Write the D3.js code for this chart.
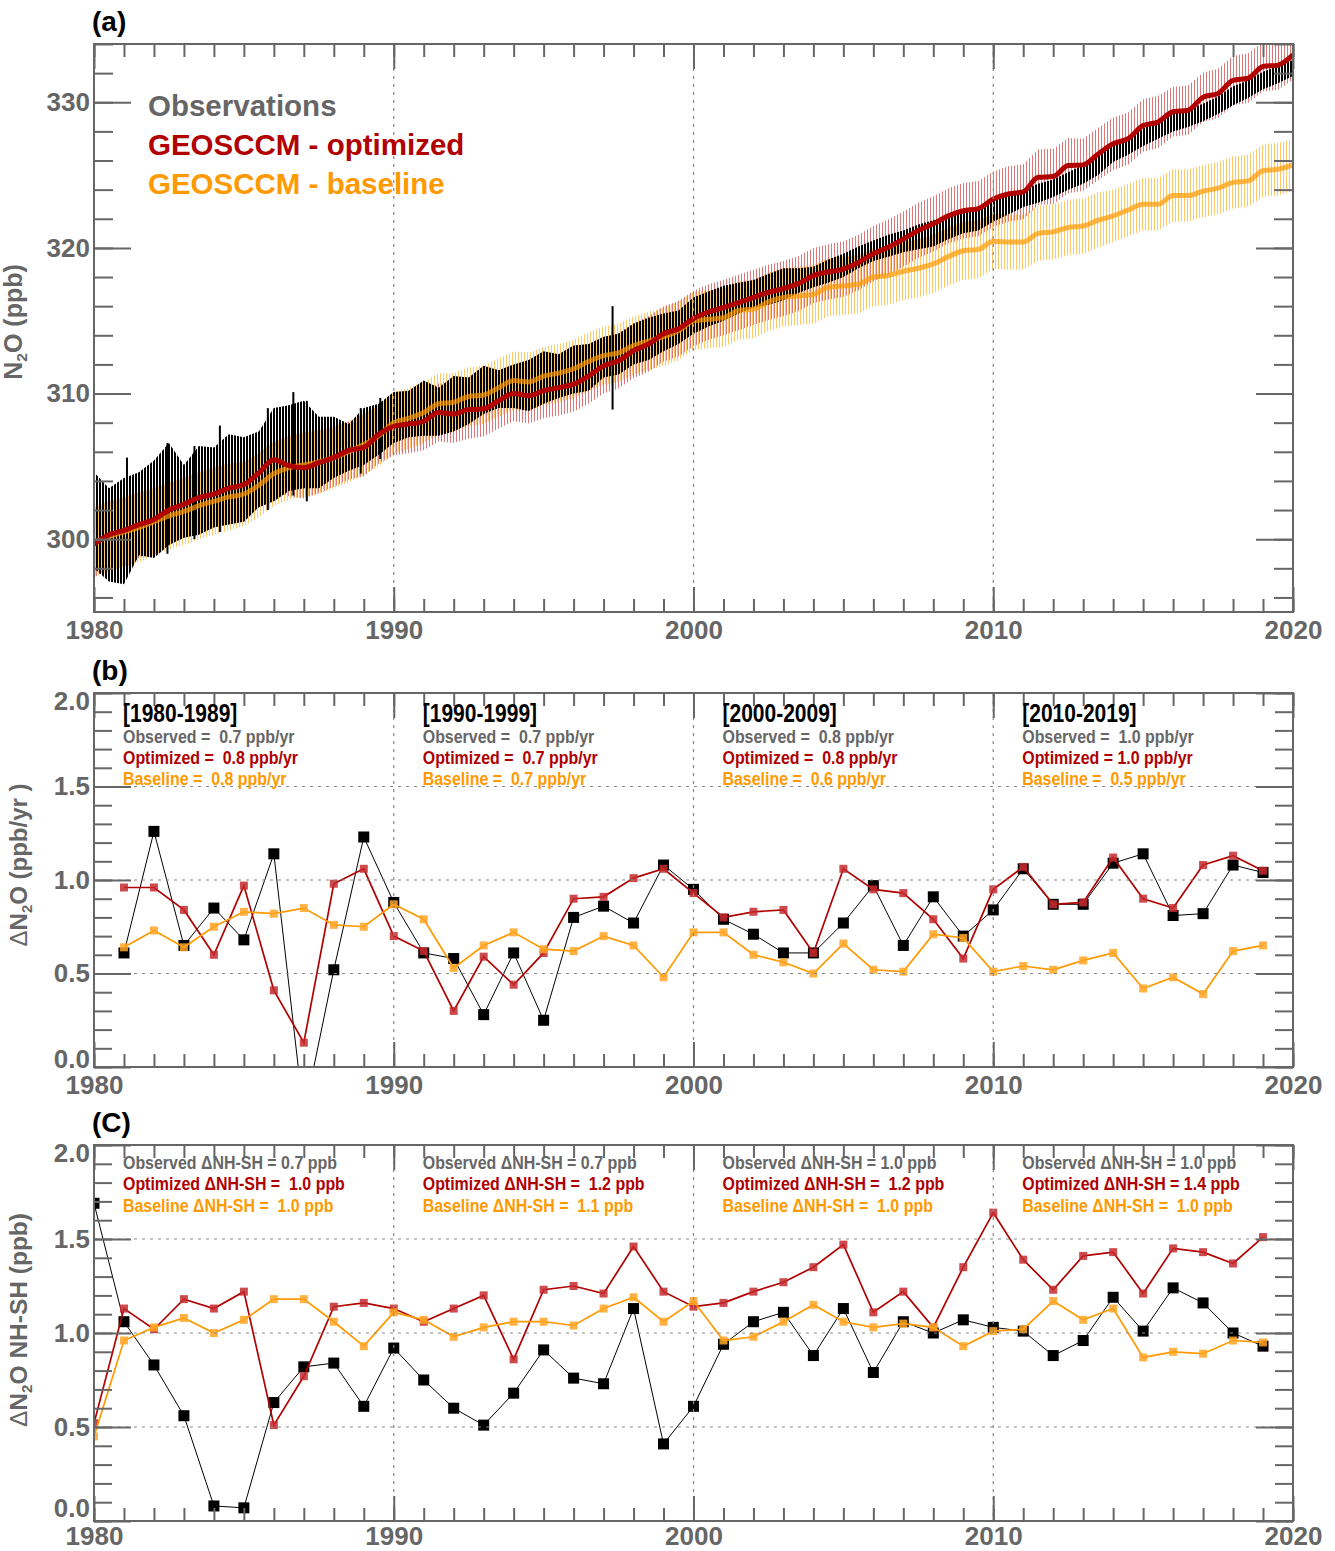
<!DOCTYPE html>
<html>
<head>
<meta charset="utf-8">
<script src="https://cdn.jsdelivr.net/npm/d3@7"></script>
<style>
    body { margin: 0; background: #fff; }
    text { font-family: "Liberation Sans", Arial, Helvetica, sans-serif; }
    .narrow { font-weight: 700; white-space: pre; }
    .axis line { stroke: #666; stroke-width: 2; }
    .axis text { font-size: 26px; font-weight: 700; fill: #666; font-family: "Liberation Sans", Arial, sans-serif; }
</style>
</head>
<body>
<div id="chart"></div>
<script>
//Datos

//Ejes
const yearTicks = [1980, 1990, 2000, 2010, 2020];
const n2oTicks = [300, 310, 320, 330];
const deltaTicks = [0.0, 0.5, 1.0, 1.5, 2.0];

//Panel (a): valores semestrales 1980.0 ... 2020.0
const timesA = d3.range(0, 81).map(function(i) { return 1980 + i / 2; });

const optMean = [299.65,300.3,300.6,301.0,301.35,302.0,302.4,302.85,303.1,303.5,303.75,304.55,305.45,305.05,304.9,305.25,305.6,306.1,306.3,307.2,
    307.75,307.9,308.1,308.7,308.6,308.9,308.95,309.5,310.0,309.85,310.2,310.4,310.65,311.2,311.9,312.25,312.95,313.4,314.1,314.45,
    315.15,315.6,315.9,316.25,316.6,316.95,317.2,317.55,318.1,318.35,318.55,319.0,319.6,320.05,320.6,321.2,321.65,322.2,322.55,322.7,
    323.35,323.7,323.85,324.85,324.9,325.65,325.7,326.45,327.15,327.5,328.4,328.65,329.35,329.45,330.35,330.6,331.5,331.65,332.45,332.55,333.25];

const baseMean = [299.8,300.2,300.5,300.8,301.2,301.6,301.9,302.3,302.6,302.9,303.1,303.7,304.5,304.9,305.1,305.3,305.6,306.0,306.5,307.1,
    308.0,308.3,308.7,309.3,309.4,309.8,309.9,310.4,310.9,310.8,311.2,311.4,311.7,312.2,312.6,312.8,313.3,313.6,313.9,314.3,
    315.0,315.1,315.2,315.7,315.8,316.3,316.6,316.7,316.8,317.3,317.4,317.5,318.0,318.1,318.4,318.6,318.9,319.4,319.8,319.9,
    320.45,320.4,320.4,321.0,321.1,321.4,321.5,321.9,322.2,322.6,323.0,323.0,323.6,323.6,323.9,324.1,324.5,324.6,325.3,325.4,325.7];

const obsHi = [304.6,303.5,304.2,304.6,305.4,306.6,305.1,306.4,306.3,307.2,307.0,307.4,309.0,309.2,309.5,308.4,308.4,307.9,309.0,309.3,
    310.1,310.2,310.9,310.4,311.2,311.1,311.9,311.6,312.0,312.3,312.9,312.7,313.3,313.4,313.9,314.1,314.8,315.2,315.5,315.7,
    316.6,317.0,317.4,317.6,317.8,318.2,318.6,318.6,318.7,319.2,319.6,320.1,320.5,320.9,321.2,321.6,321.9,322.2,322.6,322.8,
    323.2,323.6,324.0,324.4,324.7,325.2,325.7,326.4,327.2,327.6,328.2,328.7,329.2,329.5,329.9,330.4,331.1,331.5,332.1,332.5,332.9];

const obsLo = [298.0,297.1,296.9,298.9,298.7,299.6,300.1,300.3,300.8,301.0,301.2,302.2,302.6,303.3,303.5,303.5,304.2,304.7,305.1,305.8,
    306.6,307.0,307.1,307.1,307.4,307.9,308.6,309.0,309.0,308.8,309.3,309.7,310.0,310.2,311.1,311.3,312.0,312.3,312.9,313.4,
    314.1,314.6,315.0,315.5,315.9,316.1,316.4,316.9,317.3,317.6,318.0,318.6,319.1,319.4,319.7,319.9,320.1,320.6,321.0,321.2,
    321.8,322.3,322.8,323.1,323.5,324.0,324.4,325.0,325.9,326.4,327.0,327.5,328.0,328.3,328.7,329.2,329.8,330.3,330.9,331.3,331.8];

//Barras sueltas de observaciones [tiempo, min, max]
const obsSpikes = [[1981.1, 297.5, 305.6], [1982.45, 299.0, 306.6], [1983.35, 300.0, 306.4], [1984.2, 300.5, 307.8],
    [1985.8, 302.0, 309.0], [1986.65, 303.0, 310.1], [1987.1, 302.6, 309.5], [1988.9, 304.5, 309.0],
    [1989.55, 305.5, 309.7], [1997.3, 308.9, 316.0]];

//Error anual (medio rango) 1980 ... 2019
const optErr = [2.3,2.3,2.2,2.2,2.2,2.1,2.1,2.1,2.0,2.0, 2.0,2.0,2.0,1.9,1.9,1.9,1.9,1.9,1.9,1.9,
    1.9,1.9,1.9,1.9,1.9,1.9,1.9,1.9,1.9,1.9, 1.9,1.9,1.9,1.8,1.8,1.8,1.7,1.7,1.7,1.7];
const baseErr = [2.4,2.4,2.3,2.3,2.3,2.2,2.2,2.2,2.1,2.1, 2.1,2.1,2.0,2.0,2.0,2.0,2.0,2.0,2.0,2.0,
    2.0,2.0,2.0,2.0,2.0,2.0,2.0,2.0,2.0,2.0, 1.9,1.9,1.9,1.9,1.8,1.8,1.8,1.8,1.8,1.8];

//Panel (b): tasa de crecimiento 1981 ... 2019
const yearsB = d3.range(1981, 2020);
const growthObs = [0.61,1.26,0.65,0.85,0.68,1.14,-0.26,0.52,1.23, 0.88,0.61,0.58,0.28,0.61,0.25,0.80,0.86,0.77,1.08,
    0.95,0.79,0.71,0.61,0.61,0.77,0.97,0.65,0.91,0.70, 0.84,1.06,0.87,0.87,1.09,1.14,0.81,0.82,1.08,1.04];
const growthOpt = [0.96,0.96,0.84,0.60,0.97,0.41,0.13,0.98,1.06, 0.70,0.62,0.30,0.59,0.44,0.61,0.90,0.91,1.01,1.06,
    0.93,0.80,0.83,0.84,0.61,1.06,0.95,0.93,0.79,0.58, 0.95,1.07,0.87,0.88,1.12,0.90,0.85,1.08,1.13,1.05];
const growthBase = [0.64,0.73,0.64,0.75,0.83,0.82,0.85,0.76,0.75, 0.87,0.79,0.53,0.65,0.72,0.63,0.62,0.70,0.65,0.48,
    0.72,0.72,0.60,0.56,0.50,0.66,0.52,0.51,0.71,0.69, 0.51,0.54,0.52,0.57,0.61,0.42,0.48,0.39,0.62,0.65];

//Panel (c): gradiente NH-SH 1980 ... 2019
const yearsC = d3.range(1980, 2020);
const gradObs = [1.69,1.06,0.83,0.56,0.08,0.07,0.63,0.82,0.84,0.61, 0.92,0.75,0.60,0.51,0.68,0.91,0.76,0.73,1.13,0.41,
    0.61,0.94,1.06,1.11,0.88,1.13,0.79,1.06,1.00,1.07, 1.03,1.01,0.88,0.96,1.19,1.01,1.24,1.16,1.00,0.93];
const gradOpt = [0.52,1.13,1.02,1.18,1.13,1.22,0.51,0.77,1.14,1.16, 1.13,1.06,1.13,1.20,0.86,1.23,1.25,1.21,1.46,1.22,
    1.14,1.16,1.22,1.27,1.35,1.47,1.11,1.22,1.03,1.35, 1.64,1.39,1.23,1.41,1.43,1.21,1.45,1.43,1.37,1.51];
const gradBase = [0.45,0.96,1.03,1.08,1.00,1.07,1.18,1.18,1.06,0.93, 1.11,1.07,0.98,1.03,1.06,1.06,1.04,1.13,1.19,1.06,
    1.17,0.96,0.98,1.06,1.15,1.06,1.03,1.05,1.03,0.93, 1.01,1.02,1.17,1.07,1.13,0.87,0.90,0.89,0.96,0.95];

//Textos por decada
const decadeStarts = [1980, 1990, 2000, 2010];
const decadeLabels = ['[1980-1989]', '[1990-1999]', '[2000-2009]', '[2010-2019]'];
const rateObs = ['0.7', '0.7', '0.8', '1.0'];
const rateOpt = ['0.8', '0.7', '0.8', '1.0'];
const rateBase = ['0.8', '0.7', '0.6', '0.5'];
const gradTxtObs = ['0.7', '0.7', '1.0', '1.0'];
const gradTxtOpt = ['1.0', '1.2', '1.2', '1.4'];
const gradTxtBase = ['1.0', '1.1', '1.0', '1.0'];

//Colores fijos
const COLOR_OBS = '#000000',
COLOR_OPT = '#b00000',
COLOR_BASE = '#ff9900',
COLOR_GREY = '#666666';

const W = 1335, H = 1551, X0 = 94, X1 = 1293;

let svg = d3.select('#chart')
    .append('svg')
        .attr('width', W)
        .attr('height', H);

svg.append('rect').attr('width', W).attr('height', H).attr('fill', '#fff');

let defs = svg.append('defs');

//Rayado vertical para las barras de error mensuales
function hatch(id, color, x0, w) {
    let p = defs.append('pattern')
        .attr('id', id)
        .attr('patternUnits', 'userSpaceOnUse')
        .attr('width', 3)
        .attr('height', 10);
    p.append('rect').attr('x', x0).attr('y', 0).attr('width', w).attr('height', 10).attr('fill', color);
}
hatch('hOpt', '#de7777', 0, 1);
hatch('hBase', '#ffc04a', 2, 1);
hatch('hObs', '#000', 0, 2);

let x = d3.scaleLinear().domain([1980, 2020]).range([X0, X1]);

function drawAxes(top, bottom, y, yMinor, yMajor, yFmt, longMinor, tag, xPad, zeroDy) {
    let g = svg.append('g');
    let xMinor = d3.range(1980, 2021);

    //Rejilla
    g.selectAll('.vgrid')
        .data([1990, 2000, 2010])
        .enter()
        .append('line')
        .attr('x1', function(d) { return x(d); })
        .attr('x2', function(d) { return x(d); })
        .attr('y1', top)
        .attr('y2', bottom)
        .attr('stroke', '#888')
        .attr('stroke-width', 1.2)
        .attr('stroke-dasharray', '3,5');

    if (tag != 'a') {
        g.selectAll('.hgrid')
            .data([0.5, 1.0, 1.5])
            .enter()
            .append('line')
            .attr('x1', X0)
            .attr('x2', X1)
            .attr('y1', function(d) { return y(d); })
            .attr('y2', function(d) { return y(d); })
            .attr('stroke', '#888')
            .attr('stroke-width', 1.2)
            .attr('stroke-dasharray', '3,5');
    }

    g.append('g').attr('class', 'axis').attr('transform', 'translate(0,' + bottom + ')')
        .call(d3.axisBottom(x).tickValues(xMinor).tickSize(-13).tickFormat(''));
    g.append('g').attr('class', 'axis').attr('transform', 'translate(0,' + bottom + ')')
        .call(d3.axisBottom(x).tickValues(yearTicks).tickSize(-25).tickPadding(xPad).tickFormat(d3.format('d')));
    g.append('g').attr('class', 'axis').attr('transform', 'translate(0,' + top + ')')
        .call(d3.axisTop(x).tickValues(xMinor).tickSize(-13).tickFormat(''));
    g.append('g').attr('class', 'axis').attr('transform', 'translate(0,' + top + ')')
        .call(d3.axisTop(x).tickValues(yearTicks).tickSize(-25).tickFormat(''));

    g.append('g').attr('class', 'axis').attr('transform', 'translate(' + X0 + ',0)')
        .call(d3.axisLeft(y).tickValues(yMinor).tickSize(-longMinor).tickFormat(''));
    let left = g.append('g').attr('class', 'axis').attr('transform', 'translate(' + X0 + ',0)')
        .call(d3.axisLeft(y).tickValues(yMajor).tickSize(-37).tickPadding(4).tickFormat(yFmt));
    g.append('g').attr('class', 'axis').attr('transform', 'translate(' + X1 + ',0)')
        .call(d3.axisRight(y).tickValues(yMinor).tickSize(-longMinor).tickFormat(''));
    g.append('g').attr('class', 'axis').attr('transform', 'translate(' + X1 + ',0)')
        .call(d3.axisRight(y).tickValues(yMajor).tickSize(-37).tickFormat(''));

    //Etiquetas de los extremos dentro del marco
    if (tag != 'a') {
        left.selectAll('text').attr('dy', function(d) {
            if (d == 2) { return '0.62em'; }
            if (d == 0) { return zeroDy; }
            return '0.32em';
        });
    }

    g.selectAll('.domain').remove();

    g.append('rect')
        .attr('x', X0)
        .attr('y', top)
        .attr('width', X1 - X0)
        .attr('height', bottom - top)
        .attr('fill', 'none')
        .attr('stroke', COLOR_GREY)
        .attr('stroke-width', 2);
}

function panelTag(txt, yy) {
    svg.append('text')
        .attr('x', 92)
        .attr('y', yy)
        .attr('font-size', '28px')
        .attr('font-weight', 700)
        .attr('fill', '#000')
        .text(txt);
}

function yTitle(cx, cy, size, before, after, delta) {
    let t = svg.append('text')
        .attr('transform', 'translate(' + cx + ',' + cy + ') rotate(-90)')
        .attr('text-anchor', 'middle')
        .attr('font-size', size + 'px')
        .attr('font-weight', 700)
        .attr('fill', COLOR_GREY);
    if (delta) {
        t.append('tspan').attr('font-weight', 400).text('\u0394');
    }
    t.append('tspan').text(before);
    t.append('tspan').attr('font-size', (size * 0.62) + 'px').attr('dy', 5).text('2');
    t.append('tspan').attr('dy', -5).text(after);
}

//Texto estrecho (la fuente original es condensada)
function narrowText(xx, yy, size, color, txt) {
    svg.append('text')
        .attr('class', 'narrow')
        .attr('transform', 'translate(' + xx + ',' + yy + ') scale(0.84,1)')
        .attr('font-size', size + 'px')
        .attr('fill', color)
        .text(txt);
}

function clip(id, top, bottom) {
    defs.append('clipPath').attr('id', id)
        .append('rect')
        .attr('x', X0)
        .attr('y', top)
        .attr('width', X1 - X0)
        .attr('height', bottom - top);
}

/////
// Panel (a)
/////
let topA = 44, botA = 612;
let yA = d3.scaleLinear().domain([295, 334]).range([botA, topA]);
clip('clipA', topA, botA);

let gA = svg.append('g').attr('clip-path', 'url(#clipA)');

function errIdx(t) { return Math.min(39, Math.floor(t) - 1980); }

let bandOpt = d3.area()
    .x(function(d, i) { return x(timesA[i]); })
    .y0(function(d, i) { return yA(d - optErr[errIdx(timesA[i])]); })
    .y1(function(d, i) { return yA(d + optErr[errIdx(timesA[i])]); });

let bandBase = d3.area()
    .x(function(d, i) { return x(timesA[i]); })
    .y0(function(d, i) { return yA(d - baseErr[errIdx(timesA[i])]); })
    .y1(function(d, i) { return yA(d + baseErr[errIdx(timesA[i])]); });

let bandObs = d3.area()
    .x(function(d, i) { return x(timesA[i]); })
    .y0(function(d, i) { return yA(obsLo[i]); })
    .y1(function(d, i) { return yA(obsHi[i]); });

gA.append('path').datum(optMean).attr('d', bandOpt).attr('fill', 'url(#hOpt)');
gA.append('path').datum(timesA).attr('d', bandObs).attr('fill', 'url(#hObs)');
gA.append('path').datum(baseMean).attr('d', bandBase).attr('fill', 'url(#hBase)').attr('opacity', 0.85);

gA.selectAll('.spike')
    .data(obsSpikes)
    .enter()
    .append('line')
    .attr('x1', function(d) { return x(d[0]); })
    .attr('x2', function(d) { return x(d[0]); })
    .attr('y1', function(d) { return yA(d[1]); })
    .attr('y2', function(d) { return yA(d[2]); })
    .attr('stroke', COLOR_OBS)
    .attr('stroke-width', 2);

let lineA = d3.line()
    .x(function(d, i) { return x(timesA[i]); })
    .y(function(d) { return yA(d); })
    .curve(d3.curveMonotoneX);

gA.append('path').datum(baseMean).attr('d', lineA)
    .attr('fill', 'none').attr('stroke', COLOR_BASE).attr('stroke-width', 5).attr('opacity', 0.7);
gA.append('path').datum(optMean).attr('d', lineA)
    .attr('fill', 'none').attr('stroke', COLOR_OPT).attr('stroke-width', 5);

drawAxes(topA, botA, yA, d3.range(296, 334.1, 2), n2oTicks, d3.format('d'), 19, 'a', 9, '0.32em');
panelTag('(a)', 31);
yTitle(22, 322, 25, 'N', 'O (ppb)', false);

//Leyenda
let legend = [['Observations', COLOR_GREY], ['GEOSCCM - optimized', COLOR_OPT], ['GEOSCCM - baseline', COLOR_BASE]];
svg.selectAll('.legend')
    .data(legend)
    .enter()
    .append('text')
    .attr('x', 148)
    .attr('y', function(d, i) { return 116 + i * 39; })
    .attr('font-size', '29.5px')
    .attr('font-weight', 700)
    .attr('fill', function(d) { return d[1]; })
    .text(function(d) { return d[0]; });

/////
// Paneles (b) y (c)
/////
function drawPanel(top, bottom, id, years, obs, opt, base, xPad, zeroDy) {
    let y = d3.scaleLinear().domain([0, 2]).range([bottom, top]);
    clip(id, top, bottom);
    let g = svg.append('g').attr('clip-path', 'url(#' + id + ')');

    let line = d3.line()
        .x(function(d, i) { return x(years[i]); })
        .y(function(d) { return y(d); });

    let series = [
        { vals: obs, color: COLOR_OBS, lw: 1, size: 11, fill: '#000', op: 1 },
        { vals: opt, color: COLOR_OPT, lw: 1.7, size: 8, fill: '#c42a2e', op: 0.85 },
        { vals: base, color: COLOR_BASE, lw: 1.7, size: 8, fill: '#ffa424', op: 0.85 }
    ];

    series.forEach(function(s) {
        g.append('path').datum(s.vals).attr('d', line)
            .attr('fill', 'none').attr('stroke', s.color).attr('stroke-width', s.lw);
        g.selectAll(null)
            .data(s.vals)
            .enter()
            .append('rect')
            .attr('x', function(d, i) { return x(years[i]) - s.size / 2; })
            .attr('y', function(d) { return y(d) - s.size / 2; })
            .attr('width', s.size)
            .attr('height', s.size)
            .attr('fill', s.fill)
            .attr('opacity', s.op);
    });

    drawAxes(top, bottom, y, d3.range(0, 2.01, 0.1), deltaTicks, d3.format('.1f'), 18, id, xPad, zeroDy);
}

let topB = 693, botB = 1067;
drawPanel(topB, botB, 'clipB', yearsB, growthObs, growthOpt, growthBase, 9, '0.02em');
panelTag('(b)', 680);
yTitle(27, 865, 24, 'N', 'O (ppb/yr )', true);

decadeStarts.forEach(function(d, i) {
    let xx = x(d + 1) - 1;
    narrowText(xx, 722, 25, '#000', decadeLabels[i]);
    narrowText(xx, 743, 19, COLOR_GREY, 'Observed =  ' + rateObs[i] + ' ppb/yr');
    narrowText(xx, 764, 19, COLOR_OPT, (i == 3 ? 'Optimized = ' : 'Optimized =  ') + rateOpt[i] + ' ppb/yr');
    narrowText(xx, 785, 19, COLOR_BASE, 'Baseline =  ' + rateBase[i] + ' ppb/yr');
});

let topC = 1145, botC = 1521;
drawPanel(topC, botC, 'clipC', yearsC, gradObs, gradOpt, gradBase, 6, '-0.17em');
panelTag('(C)', 1132);
yTitle(27, 1320, 24.5, 'N', 'O NH-SH (ppb)', true);

decadeStarts.forEach(function(d, i) {
    let xx = x(d + 1) - 1;
    narrowText(xx, 1169, 19, COLOR_GREY, 'Observed \u0394NH-SH = ' + gradTxtObs[i] + ' ppb');
    narrowText(xx, 1190, 19, COLOR_OPT, (i == 3 ? 'Optimized \u0394NH-SH = ' : 'Optimized \u0394NH-SH =  ') + gradTxtOpt[i] + ' ppb');
    narrowText(xx, 1212, 19, COLOR_BASE, 'Baseline \u0394NH-SH =  ' + gradTxtBase[i] + ' ppb');
});
</script>
</body>
</html>
